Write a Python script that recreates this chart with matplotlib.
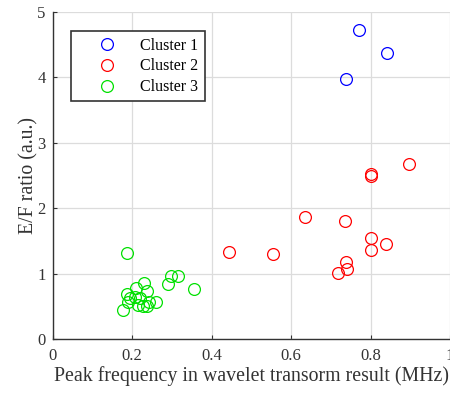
import matplotlib
matplotlib.use("Agg")
from matplotlib import pyplot as plt
import numpy as np

# cluster data
c1_x = [0.771, 0.841, 0.739]
c1_y = [4.72, 4.37, 3.98]

c2_x = [0.897, 0.801, 0.802, 0.636, 0.737, 0.802, 0.840, 0.801, 0.445, 0.555, 0.739, 0.741, 0.719]
c2_y = [2.68, 2.53, 2.50, 1.86, 1.81, 1.54, 1.455, 1.37, 1.33, 1.30, 1.18, 1.07, 1.01]

c3_x = [0.188, 0.297, 0.316, 0.290, 0.355, 0.231, 0.211, 0.238, 0.186, 0.195,
        0.207, 0.220, 0.261, 0.243, 0.190, 0.215, 0.238, 0.228, 0.178]
c3_y = [1.32, 0.97, 0.97, 0.84, 0.77, 0.855, 0.78, 0.73, 0.69, 0.63,
        0.65, 0.63, 0.57, 0.57, 0.57, 0.52, 0.50, 0.50, 0.44]

labels = ["Cluster 1", "Cluster 2", "Cluster 3"]
colors = ["#0000ff", "#ff0000", "#00e000"]

xticks = [0, 0.2, 0.4, 0.6, 0.8, 1]
xticklabels = ["0", "0.2", "0.4", "0.6", "0.8", "1"]
yticks = [0, 1, 2, 3, 4, 5]

plt.rcParams['font.family'] = ['Liberation Serif', 'DejaVu Serif']

fig = plt.figure(figsize=(4.5, 3.94), dpi=100)
ax = fig.add_axes([0.117, 0.139, 0.883, 0.831])

for xs, ys, lab, col in zip([c1_x, c2_x, c3_x], [c1_y, c2_y, c3_y], labels, colors):
    ax.plot(xs, ys, ls='none', marker='o', mfc='none', mec=col, ms=8.5, mew=0.9, label=lab)

ax.set_xlim(0, 1)
ax.set_ylim(0, 5)
ax.set_xticks(xticks)
ax.set_xticklabels(xticklabels)
ax.set_yticks(yticks)
ax.grid(True, color='#dcdcdc', lw=0.9)
ax.set_axisbelow(True)
for s in ['top', 'right']:
    ax.spines[s].set_visible(False)
for s in ['left', 'bottom']:
    ax.spines[s].set_color('#333333')
    ax.spines[s].set_linewidth(1.0)
ax.tick_params(direction='in', length=3, width=0.8, colors='#333333', labelsize=12, labelcolor='#333333')
ax.tick_params(axis='x', pad=6)
ax.tick_params(axis='y', pad=5)

ax.set_xlabel('Peak frequency in wavelet transorm result (MHz)', fontsize=14.3, color='#333333', labelpad=2)
ax.set_ylabel('E/F ratio (a.u.)', fontsize=14.3, color='#333333', labelpad=-1)

leg = ax.legend(loc='upper left', bbox_to_anchor=(0.045, 0.941), borderaxespad=0, fontsize=11.5,
                frameon=True, fancybox=False, framealpha=1, edgecolor='#333333',
                handletextpad=0.2, handlelength=3.75, borderpad=0.4, labelspacing=0.3)
leg.get_frame().set_linewidth(1.2)

plt.savefig("out.png", dpi=100)
